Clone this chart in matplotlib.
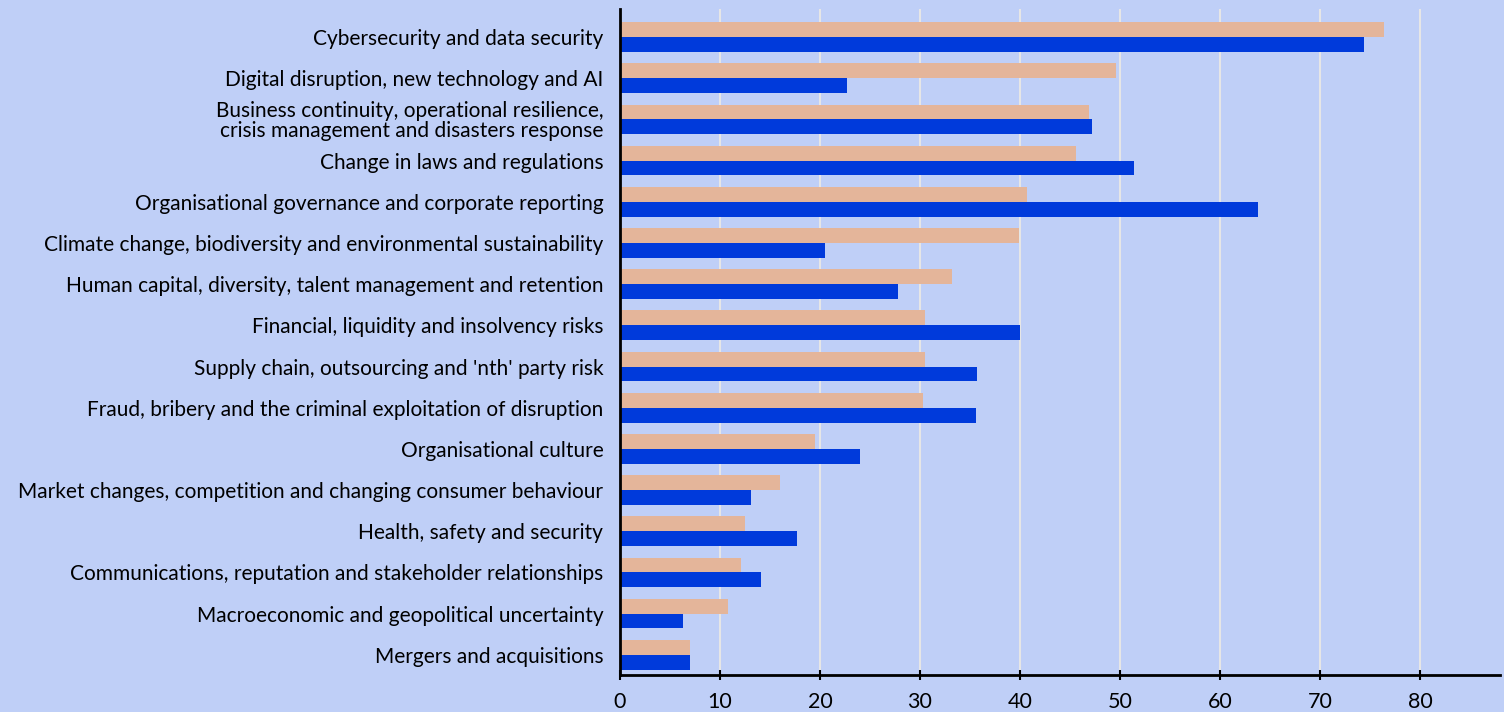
import matplotlib.pyplot as plt
import numpy as np

plt.rcParams['font.family'] = ['Lato', 'DejaVu Sans']

categories = [
    "Cybersecurity and data security",
    "Digital disruption, new technology and AI",
    "Business continuity, operational resilience,\ncrisis management and disasters response",
    "Change in laws and regulations",
    "Organisational governance and corporate reporting",
    "Climate change, biodiversity and environmental sustainability",
    "Human capital, diversity, talent management and retention",
    "Financial, liquidity and insolvency risks",
    "Supply chain, outsourcing and 'nth' party risk",
    "Fraud, bribery and the criminal exploitation of disruption",
    "Organisational culture",
    "Market changes, competition and changing consumer behaviour",
    "Health, safety and security",
    "Communications, reputation and stakeholder relationships",
    "Macroeconomic and geopolitical uncertainty",
    "Mergers and acquisitions",
]
peach_vals = [76.4, 49.6, 46.9, 45.6, 40.7, 39.9, 33.2, 30.5, 30.5, 30.3, 19.5, 16.0, 12.5, 12.1, 10.8, 7.0]
blue_vals = [74.4, 22.7, 47.2, 51.4, 63.8, 20.5, 27.8, 40.0, 35.7, 35.6, 24.0, 13.1, 17.7, 14.1, 6.3, 7.0]
xticks = [0, 10, 20, 30, 40, 50, 60, 70, 80]

BG = '#bfcff7'
PEACH = '#e4b59a'
BLUE = '#003adb'

fig = plt.figure(figsize=(15.04, 7.12), dpi=100, facecolor=BG)
ax = fig.add_axes([620 / 1504, 1 - 675 / 712, 880 / 1504, (675 - 9) / 712])
ax.set_facecolor(BG)

y = np.arange(len(categories))
h = 0.36
ax.barh(y - h / 2, peach_vals, height=h, color=PEACH, zorder=3)
ax.barh(y + h / 2, blue_vals, height=h, color=BLUE, zorder=3)

ax.set_xlim(0, 88)
ax.set_ylim(len(categories) - 1 + 0.49, -0.68)
ax.set_xticks(xticks)
ax.set_yticks(y)
ax.set_yticklabels(categories, fontsize=15, linespacing=1.0)
ax.tick_params(axis='y', length=0, pad=12)
ax.tick_params(axis='x', length=7, width=1.5, labelsize=15.5, direction='inout', pad=9)
ax.grid(axis='x', color='#e6e6e6', linewidth=1.5, zorder=0)

for side in ['top', 'right']:
    ax.spines[side].set_visible(False)
for side in ['left', 'bottom']:
    ax.spines[side].set_linewidth(2)
    ax.spines[side].set_zorder(5)

fig.savefig('out.png', dpi=100, facecolor=BG)
